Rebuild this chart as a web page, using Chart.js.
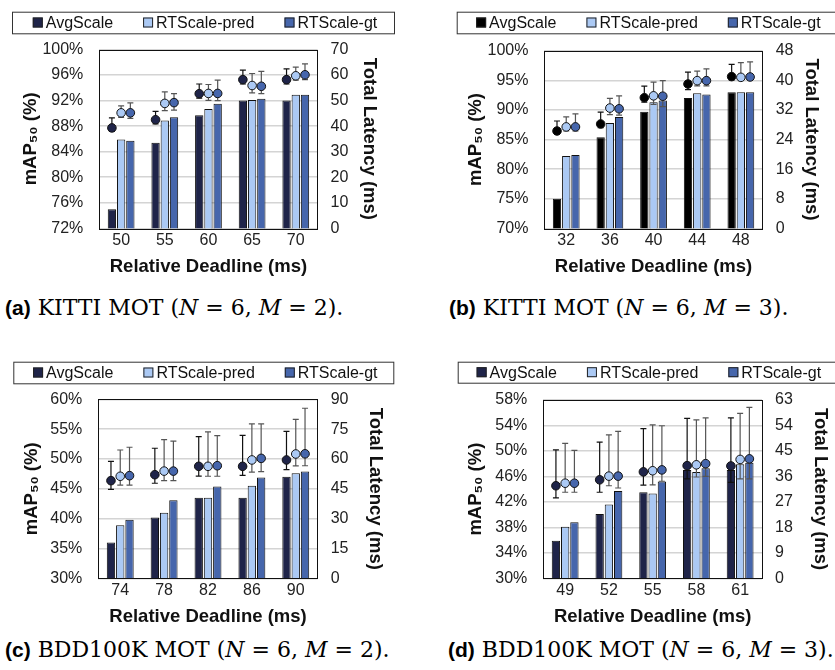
<!DOCTYPE html>
<html>
<head>
<meta charset="utf-8">
<script src="https://cdn.jsdelivr.net/npm/chart.js@4.4.1/dist/chart.umd.min.js"></script>
<style>
  body { margin: 0; background: #fff; width: 835px; height: 670px; position: relative; overflow: hidden; }
  .box { position: absolute; }
  .cap { position: absolute; font-family: 'DejaVu Serif', 'Liberation Serif', serif; font-size: 22px; line-height: 24px; color: #000; white-space: nowrap; }
  .cap b { font-family: 'Liberation Sans', Arial, sans-serif; font-size: 21px; }
</style>
</head>
<body>
<div class="box" style="left:0;top:0"><canvas id="chartA" width="417" height="290"></canvas></div>
<div class="box" style="left:418px;top:0"><canvas id="chartB" width="417" height="290"></canvas></div>
<div class="box" style="left:0;top:340px"><canvas id="chartC" width="417" height="290"></canvas></div>
<div class="box" style="left:418px;top:340px"><canvas id="chartD" width="417" height="290"></canvas></div>

<div class="cap" style="left:5px;top:296px"><b>(a)</b> KITTI MOT (<i>N</i> = 6, <i>M</i> = 2).</div>
<div class="cap" style="left:449px;top:296px"><b>(b)</b> KITTI MOT (<i>N</i> = 6, <i>M</i> = 3).</div>
<div class="cap" style="left:5px;top:638px"><b>(c)</b> BDD100K MOT (<i>N</i> = 6, <i>M</i> = 2).</div>
<div class="cap" style="left:448px;top:638px"><b>(d)</b> BDD100K MOT (<i>N</i> = 6, <i>M</i> = 3).</div>

<script>
// ---- (a) KITTI MOT, M = 2
const aDeadlines = ['50', '55', '60', '65', '70'];
const aMapAvg  = [75.0, 85.4, 89.7, 92.0, 92.0];
const aMapPred = [85.9, 88.9, 90.7, 92.1, 92.9];
const aMapGt   = [85.7, 89.4, 91.5, 92.3, 92.9];
const aLatAvg  = [39.3, 42.5, 52.7, 58.2, 58.2];
const aLatAvgLo = [37.9, 40.9, 51.0, 56.5, 56.5];
const aLatAvgHi = [43.2, 45.8, 56.5, 61.9, 62.4];
const aLatPred  = [45.2, 48.9, 52.8, 55.9, 59.7];
const aLatPredLo = [43.4, 46.1, 50.1, 53.0, 58.0];
const aLatPredHi = [47.9, 53.4, 56.3, 60.6, 63.1];
const aLatGt   = [45.2, 49.2, 52.8, 55.6, 60.1];
const aLatGtLo = [43.0, 46.3, 50.0, 52.7, 58.2];
const aLatGtHi = [49.1, 52.7, 58.0, 61.4, 64.4];
const aMapTicks = [72, 100, 4];
const aLatTicks = [0, 70, 10];

// ---- (b) KITTI MOT, M = 3
const bDeadlines = ['32', '36', '40', '44', '48'];
const bMapAvg  = [75.0, 85.4, 89.7, 92.0, 93.0];
const bMapPred = [82.2, 87.8, 91.3, 92.8, 93.0];
const bMapGt   = [82.4, 88.8, 91.6, 92.6, 93.0];
const bLatAvg  = [26.3, 28.2, 35.3, 39.0, 41.0];
const bLatAvgLo = [25.4, 27.2, 34.1, 37.5, 40.1];
const bLatAvgHi = [29.0, 31.4, 38.4, 42.2, 44.3];
const bLatPred  = [27.4, 32.5, 35.8, 39.9, 40.8];
const bLatPredLo = [26.3, 30.7, 33.5, 38.5, 40.1];
const bLatPredHi = [30.1, 35.1, 39.5, 42.5, 44.8];
const bLatGt   = [27.4, 32.3, 35.7, 39.9, 40.9];
const bLatGtLo = [26.3, 30.6, 32.9, 38.5, 40.1];
const bLatGtHi = [30.9, 35.8, 39.9, 43.1, 45.0];
const bMapTicks = [70, 100, 5];
const bLatTicks = [0, 48, 8];

// ---- (c) BDD100K MOT, M = 2
const cDeadlines = ['74', '78', '82', '86', '90'];
const cMapAvg  = [36.0, 40.2, 43.5, 43.5, 47.0];
const cMapPred = [38.9, 41.0, 43.5, 45.5, 47.6];
const cMapGt   = [39.8, 43.1, 45.4, 46.9, 47.9];
const cLatAvg  = [49.1, 52.1, 56.3, 56.3, 59.5];
const cLatAvgLo = [44.7, 47.8, 51.4, 51.8, 54.6];
const cLatAvgHi = [58.8, 65.4, 71.2, 71.9, 73.9];
const cLatPred  = [51.3, 53.9, 56.3, 59.5, 62.5];
const cLatPredLo = [46.8, 49.1, 51.3, 53.4, 56.5];
const cLatPredHi = [64.5, 69.7, 73.6, 77.6, 79.9];
const cLatGt   = [51.6, 53.9, 56.6, 60.3, 62.6];
const cLatGtLo = [46.8, 49.1, 51.3, 53.6, 56.6];
const cLatGtHi = [65.9, 69.0, 71.7, 77.6, 85.5];
const cMapTicks = [30, 60, 5];
const cLatTicks = [0, 90, 15];

// ---- (d) BDD100K MOT, M = 3
const dDeadlines = ['49', '52', '55', '58', '61'];
const dMapAvg  = [35.9, 40.1, 43.5, 47.0, 47.0];
const dMapPred = [38.1, 41.6, 43.3, 46.7, 47.9];
const dMapGt   = [38.8, 43.7, 45.2, 47.3, 48.15];
const dLatAvg  = [32.7, 34.8, 37.6, 39.8, 39.7];
const dLatAvgLo = [28.4, 30.4, 32.9, 35.1, 33.9];
const dLatAvgHi = [45.4, 48.1, 52.9, 56.5, 56.7];
const dLatPred  = [33.6, 36.1, 38.0, 40.1, 42.0];
const dLatPredLo = [30.4, 32.7, 33.0, 35.8, 35.1];
const dLatPredHi = [47.7, 50.7, 54.2, 56.0, 58.3];
const dLatGt   = [33.6, 36.1, 38.3, 40.5, 42.2];
const dLatGtLo = [30.4, 31.9, 34.3, 36.0, 35.1];
const dLatGtHi = [45.2, 51.9, 53.9, 56.7, 60.4];
const dMapTicks = [30, 58, 4];
const dLatTicks = [0, 63, 9];

const seriesNames = ['AvgScale', 'RTScale-pred', 'RTScale-gt'];
const fills = ['#1f2449', '#abc9f4', '#4666ac'];
const whiskers = ['#111111', '#555555', '#555555'];
const FONT = "'Liberation Sans', Arial, sans-serif";

Chart.defaults.font.family = FONT;
Chart.defaults.color = '#222';

// dots sit over their bar, error whiskers, plot frame and boxed legend
const figurePlugin = {
  id: 'figure',
  afterDatasetsUpdate(chart) {
    chart.data.datasets.forEach((d, i) => {
      if (d.pairBar === undefined) return;
      const bars = chart.getDatasetMeta(d.pairBar).data;
      chart.getDatasetMeta(i).data.forEach((p, j) => { p.x = bars[j].x; });
    });
  },
  beforeDatasetDraw(chart, args) {
    const d = chart.data.datasets[args.index];
    if (!d.errLo) return;
    const ctx = chart.ctx, y1 = chart.scales.y1;
    ctx.save();
    ctx.strokeStyle = d.errColor;
    ctx.lineWidth = 1.2;
    args.meta.data.forEach((p, j) => {
      const top = y1.getPixelForValue(d.errHi[j]);
      const bot = y1.getPixelForValue(d.errLo[j]);
      ctx.beginPath();
      ctx.moveTo(p.x, top); ctx.lineTo(p.x, bot);
      ctx.moveTo(p.x - 3, top); ctx.lineTo(p.x + 3, top);
      ctx.moveTo(p.x - 3, bot); ctx.lineTo(p.x + 3, bot);
      ctx.stroke();
    });
    ctx.restore();
  },
  afterDraw(chart, args, opts) {
    const ctx = chart.ctx, a = chart.chartArea;
    ctx.save();
    ctx.strokeStyle = '#111';
    ctx.lineWidth = 1;
    ctx.strokeRect(Math.round(a.left) + 0.5, Math.round(a.top) + 0.5,
      Math.round(a.right - a.left), Math.round(a.bottom - a.top));

    const [l, t, r, b] = opts.rect;
    ctx.strokeStyle = '#333';
    ctx.strokeRect(l + 0.5, t + 0.5, r - l, b - t);
    ctx.font = '16px ' + FONT;
    const items = chart.data.datasets.filter(d => d.type === 'bar');
    const sw = 10, gap = 3, space = 30;
    const widths = items.map(d => sw + gap + ctx.measureText(d.label).width);
    const total = widths.reduce((s, w) => s + w, 0) + space * (items.length - 1);
    let x = (l + r) / 2 - total / 2 + 2;
    const cy = (t + b) / 2;
    items.forEach((d, i) => {
      ctx.fillStyle = d.backgroundColor;
      ctx.fillRect(x, cy - 5, sw, sw);
      ctx.strokeStyle = '#222';
      ctx.strokeRect(x + 0.5, cy - 4.5, sw - 1, sw - 1);
      ctx.fillStyle = '#111';
      ctx.textAlign = 'left';
      ctx.textBaseline = 'middle';
      ctx.fillText(d.label, x + sw + gap, cy + 1);
      x += widths[i] + space;
    });
    ctx.restore();
  }
};

// box: canvas placement on the page, geo: plot frame, axis-title and legend places (page px)
function makeChart(id, box, geo, labels, maps, lats, lows, highs, mapTicks, latTicks, avgFill) {
  const fillSet = [avgFill, fills[1], fills[2]];
  const datasets = [];
  maps.forEach((m, k) => datasets.push({
    type: 'bar', label: seriesNames[k], data: m, yAxisID: 'y',
    backgroundColor: fillSet[k], borderColor: '#111', borderWidth: 1,
    categoryPercentage: 0.634, barPercentage: 0.9, order: 2
  }));
  lats.forEach((v, k) => datasets.push({
    type: 'line', label: seriesNames[k] + ' latency', data: v, yAxisID: 'y1',
    showLine: false, pointRadius: 4.3, pointBackgroundColor: fillSet[k],
    pointBorderColor: '#111', pointBorderWidth: 1, order: 1,
    pairBar: k, errLo: lows[k], errHi: highs[k], errColor: whiskers[k]
  }));

  const plotBottom = geo.b - box.top;
  new Chart(document.getElementById(id), {
    type: 'bar',
    data: { labels: labels, datasets: datasets },
    plugins: [figurePlugin],
    options: {
      responsive: false,
      animation: false,
      events: [],
      layout: { padding: { top: geo.t - box.top, left: 0, right: 0, bottom: 0 } },
      plugins: {
        legend: { display: false },
        tooltip: { enabled: false },
        figure: { rect: geo.lg.map((v, i) => v - (i % 2 ? box.top : box.left)) }
      },
      scales: {
        x: {
          grid: { display: false, drawTicks: false },
          border: { display: false },
          ticks: { padding: 3, font: { size: 16 }, color: '#222' },
          title: {
            display: true, text: 'Relative Deadline (ms)', color: '#111',
            font: { size: 18.5, weight: 'bold' },
            padding: { top: 0, bottom: box.h - 11.1 - (plotBottom + 39) }
          },
          afterFit: s => { s.height = box.h - plotBottom; }
        },
        y: {
          position: 'left',
          min: mapTicks[0], max: mapTicks[1],
          ticks: { stepSize: mapTicks[2], padding: 16, font: { size: 16 }, color: '#222',
                   callback: v => v + '%' },
          grid: { color: '#d4d4d4', lineWidth: 1.5, drawTicks: false },
          border: { display: false },
          title: {
            display: true, text: 'mAP\u2085\u2080 (%)', color: '#111',
            font: { size: 18.5, weight: 'bold' },
            padding: { top: geo.ltx - box.left - 11.1, bottom: 0 }
          },
          afterFit: s => { s.width = geo.l - box.left; }
        },
        y1: {
          position: 'right',
          min: latTicks[0], max: latTicks[1],
          ticks: { stepSize: latTicks[2], padding: 13, font: { size: 16 }, color: '#222' },
          grid: { display: false, drawTicks: false },
          border: { display: false },
          title: {
            display: true, text: 'Total Latency (ms)', color: '#111',
            font: { size: 18.5, weight: 'bold' },
            padding: { top: box.left + box.w - geo.rtx - 11.1, bottom: 0 }
          },
          afterFit: s => { s.width = box.left + box.w - geo.r; }
        }
      }
    }
  });
}

makeChart('chartA', { left: 0, top: 0, w: 417, h: 290 },
  { l: 99.3, r: 317.6, t: 49.5, b: 228.3, ltx: 31, rtx: 369, lg: [12, 11.7, 394, 33.3] },
  aDeadlines, [aMapAvg, aMapPred, aMapGt], [aLatAvg, aLatPred, aLatGt],
  [aLatAvgLo, aLatPredLo, aLatGtLo], [aLatAvgHi, aLatPredHi, aLatGtHi],
  aMapTicks, aLatTicks, fills[0]);

makeChart('chartB', { left: 418, top: 0, w: 417, h: 290 },
  { l: 544.4, r: 762.7, t: 50.7, b: 228.3, ltx: 476, rtx: 811, lg: [456.7, 11.7, 836, 33.3] },
  bDeadlines, [bMapAvg, bMapPred, bMapGt], [bLatAvg, bLatPred, bLatGt],
  [bLatAvgLo, bLatPredLo, bLatGtLo], [bLatAvgHi, bLatPredHi, bLatGtHi],
  bMapTicks, bLatTicks, '#000000');

makeChart('chartC', { left: 0, top: 340, w: 417, h: 290 },
  { l: 98.3, r: 317.7, t: 399.3, b: 578.3, ltx: 31.7, rtx: 375, lg: [13.3, 361.7, 393.3, 383.3] },
  cDeadlines, [cMapAvg, cMapPred, cMapGt], [cLatAvg, cLatPred, cLatGt],
  [cLatAvgLo, cLatPredLo, cLatGtLo], [cLatAvgHi, cLatPredHi, cLatGtHi],
  cMapTicks, cLatTicks, fills[0]);

makeChart('chartD', { left: 418, top: 340, w: 417, h: 290 },
  { l: 543.3, r: 762, t: 400, b: 578.3, ltx: 476, rtx: 820, lg: [457.7, 361.7, 836, 382.7] },
  dDeadlines, [dMapAvg, dMapPred, dMapGt], [dLatAvg, dLatPred, dLatGt],
  [dLatAvgLo, dLatPredLo, dLatGtLo], [dLatAvgHi, dLatPredHi, dLatGtHi],
  dMapTicks, dLatTicks, fills[0]);
</script>
</body>
</html>
